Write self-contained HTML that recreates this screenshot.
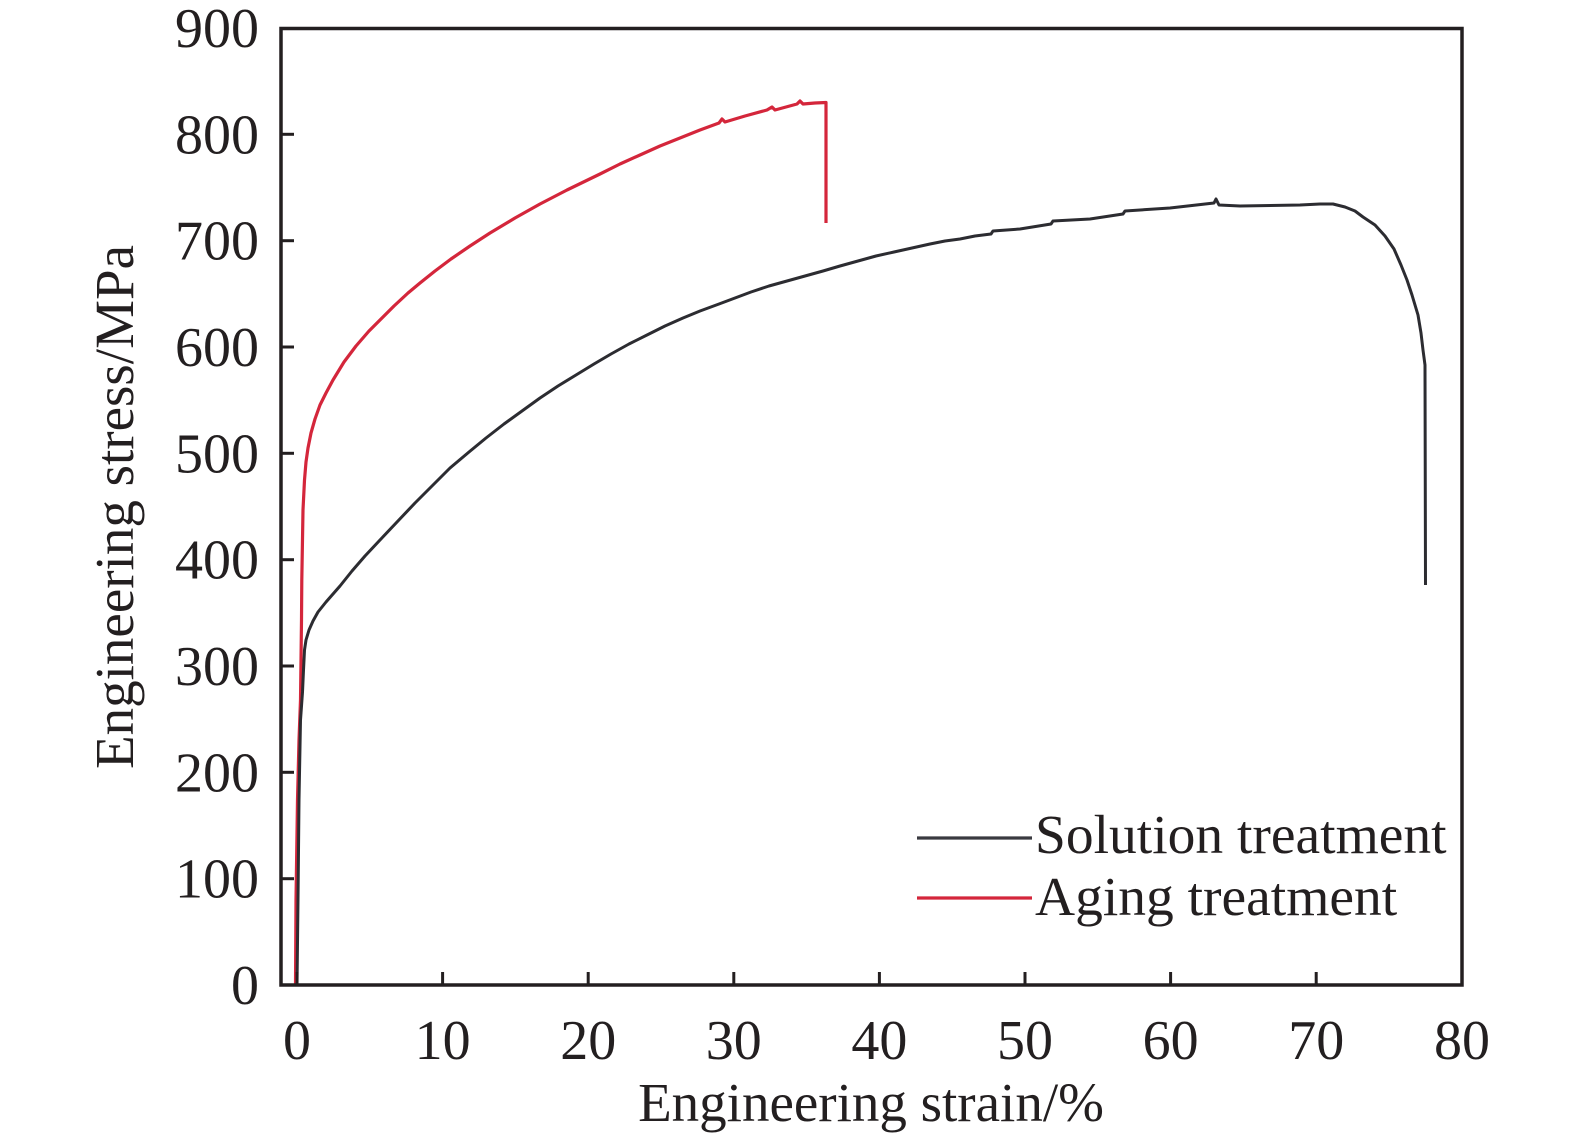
<!DOCTYPE html>
<html>
<head>
<meta charset="utf-8">
<style>
html,body{margin:0;padding:0;background:#fff;}
svg{display:block;}
text{font-family:"Liberation Serif","Times New Roman",serif;fill:#231f20;}
</style>
</head>
<body>
<svg width="1575" height="1143" viewBox="0 0 1575 1143" xmlns="http://www.w3.org/2000/svg">
<rect x="0" y="0" width="1575" height="1143" fill="#fff"/>

<!-- curves -->
<polyline fill="none" stroke="#d4263b" stroke-width="3.2" stroke-linejoin="round" stroke-linecap="butt"
points="295.5,985 296,900 297.5,800 299,740 300.5,700 301.5,620 301.8,580 303,510 304.5,480 306,462 308,448 311,433 315,419 320,405 326,393 333,380 344,362 356,346 369,331 380,320 394,306 408,293 420,283 435,271 451,259 470,246 490,233 515,218 540,204 567,190 600,174 620,164 640,155 660,146 680,138 700,130 719,123 722,119 725,122 745,116 767,110 772,107 775,110 797,104 800,101 803,104 815,103 826,102.5 826,223"/>

<polyline fill="none" stroke="#2c2c31" stroke-width="3" stroke-linejoin="round" stroke-linecap="butt"
points="297,985 298,900 299,800 300.5,720 302.5,692 303.5,670 304.5,650 306,640 309,630 313,621 318,612 326,602 340,586 352,571 365,556 380,540 397,522 415,503 433,485 450,468 469,452 486,438 504,424 522,411 540,398 558,386 576,375 594,364 611,354 629,344 647,335 665,326 683,318 700,311 719,304 735,298 751,292 769,286 787,281 805,276 823,271 840,266 858,261 876,256 894,252 912,248 930,244 945,241 960,239 975,236 991,234 993,231 1020,229 1051,224 1053,221 1090,219 1123,214 1125,211 1170,208 1214,203 1216,199 1219,205 1240,206 1300,205 1320,204 1333,204 1345,207 1355,211 1363,217 1375,225 1385,236 1394,249 1401,265 1407,280 1412,295 1418,315 1421,333 1423,350 1425,365 1425.5,585"/>

<!-- axes box -->
<rect x="281" y="28.5" width="1181" height="956.5" fill="none" stroke="#231f20" stroke-width="3.5"/>

<!-- y ticks -->
<g stroke="#231f20" stroke-width="3">
<line x1="281" y1="878.7" x2="294" y2="878.7"/>
<line x1="281" y1="772.3" x2="294" y2="772.3"/>
<line x1="281" y1="666" x2="294" y2="666"/>
<line x1="281" y1="559.7" x2="294" y2="559.7"/>
<line x1="281" y1="453.3" x2="294" y2="453.3"/>
<line x1="281" y1="347" x2="294" y2="347"/>
<line x1="281" y1="240.7" x2="294" y2="240.7"/>
<line x1="281" y1="134.3" x2="294" y2="134.3"/>
<!-- x ticks -->
<line x1="297" y1="985" x2="297" y2="972"/>
<line x1="442.6" y1="985" x2="442.6" y2="972"/>
<line x1="588.2" y1="985" x2="588.2" y2="972"/>
<line x1="733.8" y1="985" x2="733.8" y2="972"/>
<line x1="879.4" y1="985" x2="879.4" y2="972"/>
<line x1="1025" y1="985" x2="1025" y2="972"/>
<line x1="1170.6" y1="985" x2="1170.6" y2="972"/>
<line x1="1316.2" y1="985" x2="1316.2" y2="972"/>
</g>

<!-- y tick labels -->
<g font-size="56" text-anchor="end">
<text x="259" y="1004">0</text>
<text x="259" y="897.7">100</text>
<text x="259" y="791.3">200</text>
<text x="259" y="685">300</text>
<text x="259" y="578.7">400</text>
<text x="259" y="472.3">500</text>
<text x="259" y="366">600</text>
<text x="259" y="259.7">700</text>
<text x="259" y="153.3">800</text>
<text x="259" y="47">900</text>
</g>

<!-- x tick labels -->
<g font-size="56" text-anchor="middle">
<text x="297" y="1059">0</text>
<text x="442.6" y="1059">10</text>
<text x="588.2" y="1059">20</text>
<text x="733.8" y="1059">30</text>
<text x="879.4" y="1059">40</text>
<text x="1025" y="1059">50</text>
<text x="1170.6" y="1059">60</text>
<text x="1316.2" y="1059">70</text>
<text x="1462" y="1059">80</text>
</g>

<!-- axis titles -->
<text x="871" y="1121" font-size="55" text-anchor="middle">Engineering strain/%</text>
<text transform="translate(133,507) rotate(-90)" font-size="55" text-anchor="middle">Engineering stress/MPa</text>

<!-- legend -->
<line x1="917" y1="838" x2="1032" y2="838" stroke="#3a3a40" stroke-width="3.2"/>
<line x1="917" y1="898" x2="1032" y2="898" stroke="#d4263b" stroke-width="3.2"/>
<text x="1035" y="853" font-size="55.5">Solution treatment</text>
<text x="1035" y="915" font-size="55.5">Aging treatment</text>
</svg>
</body>
</html>
